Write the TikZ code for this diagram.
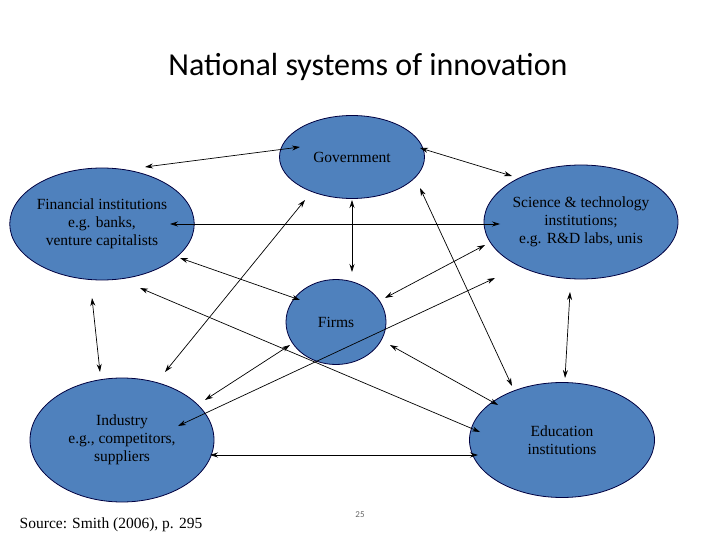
\documentclass[tikz,border=0pt]{standalone}
\usepackage{fontspec}
\setmainfont{Liberation Serif}
\newfontfamily\calib{Carlito}
\usetikzlibrary{arrows.meta,shapes.geometric}
\begin{document}
\begin{tikzpicture}[x=1pt,y=-1pt,
  blob/.style={ellipse,draw=black!75!blue,line width=0.8pt,fill={rgb,255:red,79;green,129;blue,189},inner sep=0pt,align=center,font=\fontsize{15.5}{18}\selectfont},
  link/.style={{Stealth[length=8pt,width=5pt]}-{Stealth[length=8pt,width=5pt]},line width=0.7pt}]
\useasboundingbox (0,0) rectangle (720,540);
\node[font=\calib\fontsize{32}{36}\selectfont] (title) at (368,67) {National systems of innovation};
\node[blob,minimum width=145,minimum height=83] (gov) at (352,157) {Government};
\node[blob,minimum width=176,minimum height=112] (fin) at (102,224) {Financial institutions\\e.g. banks,\\venture capitalists};
\node[blob,minimum width=194,minimum height=114] (sci) at (581,222) {Science \& technology\\institutions;\\e.g. R\&D labs, unis};
\node[blob,minimum width=100,minimum height=85] (firm) at (336,322) {Firms};
\node[blob,minimum width=184,minimum height=124] (ind) at (122,440) {Industry\\e.g., competitors,\\suppliers};
\node[blob,minimum width=185,minimum height=115] (edu) at (562,440) {Education\\institutions};
\node[font=\fontsize{15.5}{18}\selectfont] (src) at (111,525) {Source: Smith (2006), p. 295};
\node[font=\calib\fontsize{9}{10}\selectfont,text=black!60] (pg) at (360,515) {25};
\def\lk#1#2#3#4#5{\coordinate (s#5) at (#1,#2); \coordinate (e#5) at (#3,#4); \draw[link] (s#5) -- (e#5);}
\lk{145}{167}{300}{147}{1}
\lk{420}{148}{512}{176}{2}
\lk{170}{224}{500}{224}{3}
\lk{352}{200}{352}{272}{4}
\lk{180}{258}{300}{300}{5}
\lk{485}{245}{385}{298}{6}
\lk{305}{200}{165}{372}{7}
\lk{420}{188}{512}{386}{8}
\lk{140}{288}{480}{432}{9}
\lk{495}{278}{178}{426}{10}
\lk{92}{298}{100}{372}{11}
\lk{570}{292}{565}{378}{12}
\lk{290}{345}{205}{400}{13}
\lk{390}{345}{498}{405}{14}
\lk{210}{455}{478}{455}{15}
\end{tikzpicture}
\end{document}
